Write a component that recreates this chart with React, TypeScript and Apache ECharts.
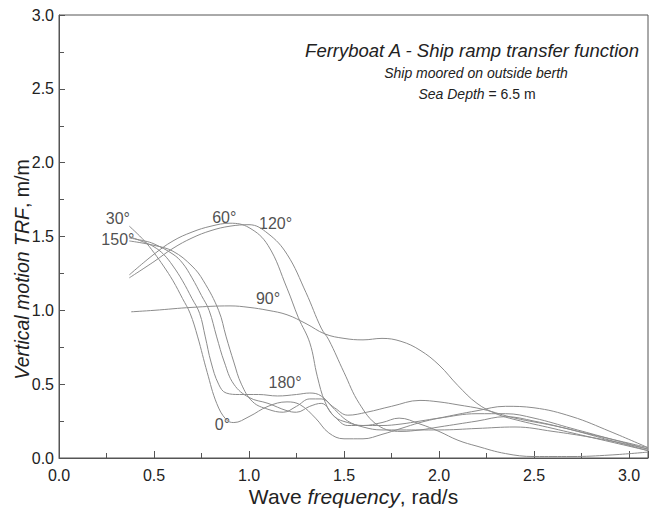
import React, { useEffect, useRef } from "react";
import * as echarts from "echarts";

// Curve data [frequency rad/s, TRF m/m]
const curve0: number[][] = [
  [0.37, 1.57], [0.45, 1.47], [0.5, 1.39], [0.55, 1.3], [0.6, 1.2], [0.65, 1.08], [0.69, 0.98],
  [0.73, 0.82], [0.78, 0.58], [0.83, 0.37], [0.88, 0.26], [0.92, 0.24], [1.0, 0.28], [1.1, 0.35],
  [1.2, 0.38], [1.27, 0.36], [1.35, 0.27], [1.42, 0.17], [1.5, 0.13], [1.6, 0.13], [1.7, 0.16],
  [1.8, 0.2], [1.9, 0.24], [2.0, 0.27], [2.2, 0.32], [2.35, 0.35], [2.5, 0.34], [2.7, 0.28],
  [2.9, 0.18], [3.1, 0.07],
];
const curve180: number[][] = [
  [0.37, 1.5], [0.45, 1.46], [0.5, 1.43], [0.55, 1.38], [0.6, 1.3], [0.65, 1.2], [0.7, 1.08],
  [0.74, 0.98], [0.77, 0.82], [0.8, 0.65], [0.84, 0.5], [0.88, 0.44], [0.95, 0.43], [1.05, 0.43],
  [1.15, 0.42], [1.25, 0.43], [1.32, 0.44], [1.38, 0.42], [1.45, 0.33], [1.52, 0.25], [1.6, 0.21],
  [1.7, 0.19], [1.8, 0.19], [2.0, 0.19], [2.2, 0.2], [2.4, 0.21], [2.6, 0.18], [2.8, 0.14],
  [3.0, 0.09], [3.1, 0.06],
];
const curve150: number[][] = [
  [0.37, 1.49], [0.45, 1.47], [0.5, 1.45], [0.6, 1.38], [0.65, 1.32], [0.7, 1.22], [0.75, 1.1],
  [0.79, 1.0], [0.83, 0.82], [0.87, 0.65], [0.92, 0.5], [1.0, 0.41], [1.1, 0.37], [1.2, 0.32],
  [1.25, 0.31], [1.32, 0.35], [1.38, 0.37], [1.45, 0.28], [1.52, 0.22], [1.6, 0.22], [1.7, 0.24],
  [1.79, 0.27], [1.9, 0.23], [2.0, 0.18], [2.1, 0.12], [2.2, 0.08], [2.35, 0.03], [2.5, 0.01],
  [2.7, 0.01], [2.9, 0.02], [3.1, 0.04],
];
const curve30: number[][] = [
  [0.37, 1.47], [0.5, 1.44], [0.6, 1.4], [0.7, 1.3], [0.76, 1.2], [0.84, 1.0], [0.88, 0.82],
  [0.92, 0.65], [0.96, 0.5], [1.02, 0.38], [1.1, 0.33], [1.18, 0.31], [1.25, 0.35], [1.32, 0.4],
  [1.38, 0.4], [1.45, 0.34], [1.52, 0.29], [1.62, 0.31], [1.75, 0.35], [1.9, 0.39], [2.0, 0.38],
  [2.1, 0.36], [2.23, 0.33], [2.4, 0.27], [2.6, 0.22], [2.8, 0.16], [3.0, 0.1], [3.1, 0.07],
];
const curve60: number[][] = [
  [0.37, 1.24], [0.5, 1.38], [0.6, 1.47], [0.7, 1.53], [0.8, 1.57], [0.9, 1.59], [1.0, 1.56],
  [1.1, 1.44], [1.2, 1.15], [1.26, 0.95], [1.32, 0.78], [1.36, 0.55], [1.4, 0.38], [1.45, 0.28],
  [1.52, 0.24], [1.6, 0.22], [1.7, 0.22], [1.8, 0.23], [1.9, 0.25], [2.0, 0.27], [2.2, 0.3],
  [2.35, 0.3], [2.5, 0.27], [2.7, 0.2], [2.9, 0.13], [3.1, 0.06],
];
const curve120: number[][] = [
  [0.37, 1.22], [0.5, 1.33], [0.6, 1.42], [0.7, 1.49], [0.8, 1.54], [0.9, 1.57], [1.0, 1.58],
  [1.1, 1.52], [1.2, 1.38], [1.3, 1.12], [1.38, 0.88], [1.42, 0.8], [1.5, 0.58], [1.58, 0.37],
  [1.68, 0.22], [1.8, 0.18], [1.9, 0.19], [2.0, 0.21], [2.2, 0.25], [2.35, 0.28], [2.5, 0.25],
  [2.7, 0.19], [2.9, 0.12], [3.1, 0.05],
];
const curve90: number[][] = [
  [0.38, 0.99], [0.5, 1.0], [0.7, 1.02], [0.9, 1.03], [1.0, 1.02], [1.1, 1.0], [1.2, 0.97],
  [1.3, 0.91], [1.4, 0.84], [1.5, 0.81], [1.6, 0.8], [1.7, 0.81], [1.8, 0.79], [1.9, 0.73],
  [2.0, 0.63], [2.1, 0.49], [2.2, 0.37], [2.3, 0.3], [2.4, 0.26], [2.6, 0.2], [2.8, 0.14],
  [3.0, 0.08], [3.1, 0.05],
];

const curveNames = ["0°", "30°", "60°", "90°", "120°", "150°", "180°"];
const curveData = [curve0, curve30, curve60, curve90, curve120, curve150, curve180];

// Curve label anchors [x, y, text]
const labelPoints: (number | string)[][] = [
  [0.31, 1.62, "30°"],
  [0.31, 1.48, "150°"],
  [0.87, 1.63, "60°"],
  [1.14, 1.59, "120°"],
  [1.1, 1.08, "90°"],
  [1.19, 0.51, "180°"],
  [0.86, 0.23, "0°"],
];

const xTicksLabelDigits = 1;

export default function App() {
  const ref = useRef<HTMLDivElement>(null);
  useEffect(() => {
    if (!ref.current) return;
    const chart = echarts.init(ref.current, null, { renderer: "svg" });
    const font = "'Liberation Sans', Arial, sans-serif";
    const axisColor = "#555";
    const txt = "#222";
    const lineSeries = curveData.map((d, i) => ({
      name: curveNames[i],
      type: "line",
      data: d,
      smooth: 0.4,
      showSymbol: false,
      symbol: "none",
      lineStyle: { color: "#8c8c8c", width: 1 },
      silent: true,
    }));
    chart.setOption({
      animation: false,
      backgroundColor: "#fff",
      textStyle: { fontFamily: font },
      grid: {
        left: 59,
        right: 5,
        top: 15,
        bottom: 51,
        show: true,
        borderColor: axisColor,
        borderWidth: 1,
        backgroundColor: "transparent",
        containLabel: false,
        outerBoundsMode: "none",
      },
      title: [
        {
          text: "Ferryboat A - Ship ramp transfer function",
          left: 467,
          top: 36,
          textAlign: "center",
          textStyle: { fontSize: 18.5, fontStyle: "italic", fontWeight: "normal", color: txt, fontFamily: font },
        },
        {
          text: "Ship moored on outside berth",
          left: 471,
          top: 61,
          textAlign: "center",
          textStyle: { fontSize: 14, fontStyle: "italic", fontWeight: "normal", color: txt, fontFamily: font },
        },
        {
          text: "{i|Sea Depth} {n|= 6.5 m}",
          left: 472,
          top: 82,
          textAlign: "center",
          textStyle: {
            fontSize: 14,
            fontWeight: "normal",
            color: txt,
            fontFamily: font,
            rich: {
              i: { fontSize: 14, fontStyle: "italic", color: txt, fontFamily: font },
              n: { fontSize: 14, color: txt, fontFamily: font },
            },
          },
        },
      ],
      xAxis: {
        type: "value",
        min: 0,
        max: 3.1,
        interval: 0.5,
        name: "{n|Wave }{i|frequency}{n|, rad/s}",
        nameLocation: "middle",
        nameGap: 27,
        nameMoveOverlap: false,
        nameTextStyle: {
          lineHeight: 22,
          rich: {
            n: { fontSize: 21, lineHeight: 22, color: txt, fontFamily: font },
            i: { fontSize: 21, lineHeight: 22, fontStyle: "italic", color: txt, fontFamily: font },
          },
        },
        axisLine: { show: true, lineStyle: { color: axisColor, width: 1 } },
        axisTick: { show: true, inside: true, length: 7, lineStyle: { color: axisColor } },
        minorTick: { show: true, splitNumber: 2, length: 5, lineStyle: { color: axisColor } },
        splitLine: { show: false },
        axisLabel: {
          color: txt,
          fontSize: 16,
          margin: 9,
          fontFamily: font,
          showMaxLabel: false,
          formatter: (v: number) => (v > 3.05 ? "" : v.toFixed(xTicksLabelDigits)),
        },
      },
      yAxis: {
        type: "value",
        min: 0,
        max: 3,
        interval: 0.5,
        name: "{i|Vertical motion TRF}{n|, m/m}",
        nameLocation: "middle",
        nameGap: 27,
        nameMoveOverlap: false,
        nameTextStyle: {
          padding: [0, 66, 0, 0],
          lineHeight: 21,
          rich: {
            n: { fontSize: 19.5, lineHeight: 21, color: txt, fontFamily: font },
            i: { fontSize: 19.5, lineHeight: 21, fontStyle: "italic", color: txt, fontFamily: font },
          },
        },
        axisLine: { show: true, lineStyle: { color: axisColor, width: 1 } },
        axisTick: { show: true, inside: true, length: 6, lineStyle: { color: axisColor } },
        minorTick: { show: true, splitNumber: 2, length: 5, lineStyle: { color: axisColor } },
        splitLine: { show: false },
        axisLabel: {
          color: txt,
          fontSize: 16,
          margin: 5,
          fontFamily: font,
          formatter: (v: number) => v.toFixed(1),
        },
      },
      series: [
        ...lineSeries,
        {
          name: "labels",
          type: "scatter",
          symbolSize: 1,
          itemStyle: { color: "transparent" },
          silent: true,
          data: labelPoints.map((p) => ({ value: [p[0], p[1]], name: p[2] })),
          label: {
            show: true,
            position: "inside",
            formatter: (p: any) => p.name,
            fontSize: 16,
            color: txt,
            fontFamily: font,
          },
        },
      ],
    });
    return () => chart.dispose();
  }, []);
  return <div ref={ref} style={{ width: 653, height: 509, position: "absolute", left: 0, top: 0 }} />;
}
